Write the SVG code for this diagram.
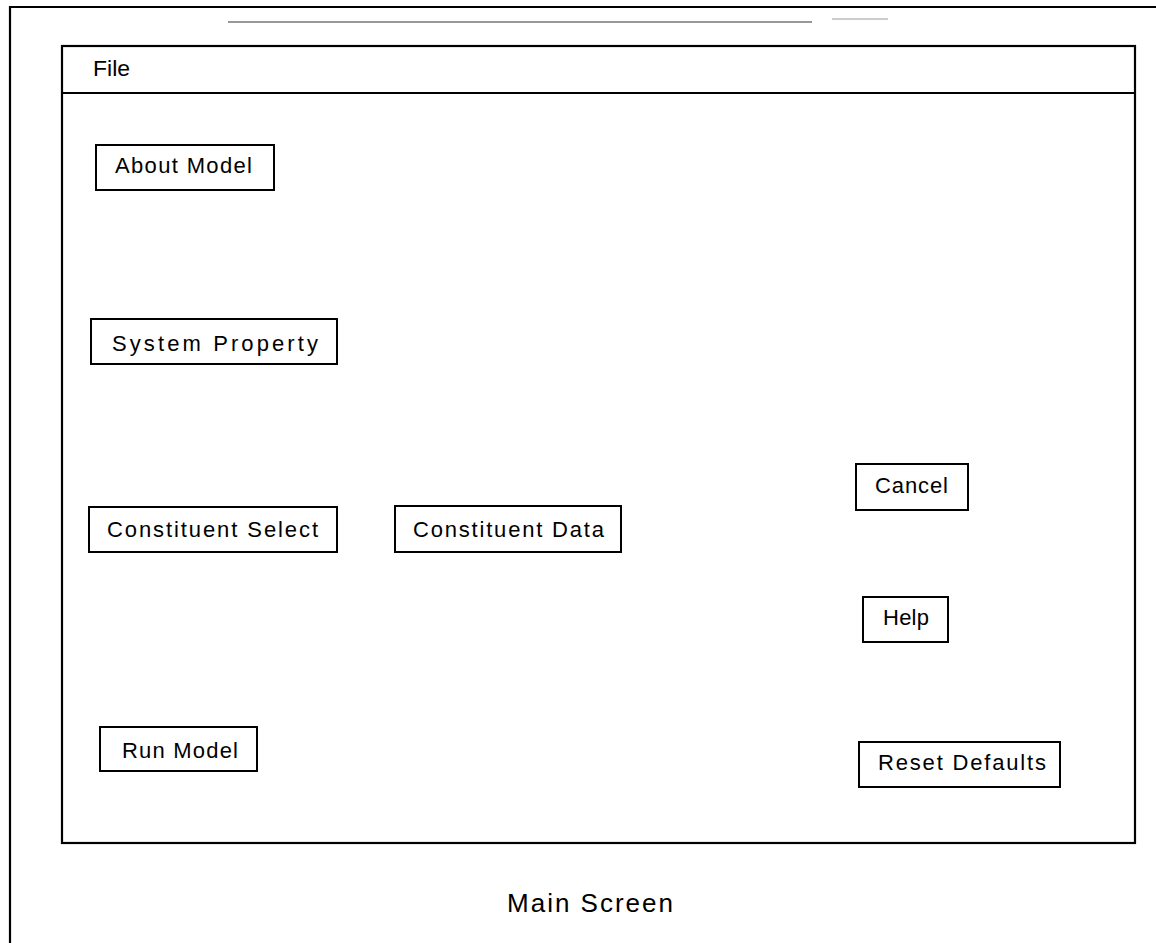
<svg xmlns="http://www.w3.org/2000/svg" width="1156" height="943" viewBox="0 0 1156 943">
  <style>
    .frame { fill: none; stroke: #000; stroke-width: 2.2; }
    .btn { fill: #fff; stroke: #000; stroke-width: 2; }
    .lbl { font-family: "Liberation Sans", Arial, sans-serif; font-size: 22px; fill: #000; }
    .cap { font-family: "Liberation Sans", Arial, sans-serif; font-size: 26px; fill: #000; }
  </style>
  <rect width="1156" height="943" fill="#fff"/>

  <!-- outer sheet border (runs off the right and bottom edges) -->
  <g id="sheet">
    <polyline class="frame" points="10,943 10,7 1156,7"/>
    <line x1="228" y1="22" x2="812" y2="22" stroke="#777" stroke-width="1.4"/>
    <line x1="832" y1="19" x2="888" y2="19" stroke="#999" stroke-width="1.2"/>
  </g>

  <!-- application window with menu bar -->
  <g id="window">
    <rect class="frame" x="62" y="46" width="1073" height="797"/>
    <line class="frame" x1="62" y1="93" x2="1135" y2="93"/>
    <text class="lbl" x="93" y="76" textLength="37" lengthAdjust="spacingAndGlyphs">File</text>
  </g>

  <g id="about-model">
    <rect class="btn" x="96" y="145" width="178" height="45"/>
    <text class="lbl" x="115" y="173" textLength="137" lengthAdjust="spacing">About Model</text>
  </g>

  <g id="system-property">
    <rect class="btn" x="91" y="319" width="246" height="45"/>
    <text class="lbl" x="112" y="351" textLength="206" lengthAdjust="spacing">System Property</text>
  </g>

  <g id="constituent-select">
    <rect class="btn" x="89" y="507" width="248" height="45"/>
    <text class="lbl" x="107" y="537" textLength="211" lengthAdjust="spacing">Constituent Select</text>
  </g>

  <g id="constituent-data">
    <rect class="btn" x="395" y="506" width="226" height="46"/>
    <text class="lbl" x="413" y="537" textLength="191" lengthAdjust="spacing">Constituent Data</text>
  </g>

  <g id="cancel">
    <rect class="btn" x="856" y="464" width="112" height="46"/>
    <text class="lbl" x="875" y="493" textLength="73" lengthAdjust="spacing">Cancel</text>
  </g>

  <g id="help">
    <rect class="btn" x="863" y="597" width="85" height="45"/>
    <text class="lbl" x="883" y="625" textLength="46" lengthAdjust="spacing">Help</text>
  </g>

  <g id="reset-defaults">
    <rect class="btn" x="859" y="742" width="201" height="45"/>
    <text class="lbl" x="878" y="770" textLength="168" lengthAdjust="spacing">Reset Defaults</text>
  </g>

  <g id="run-model">
    <rect class="btn" x="100" y="727" width="157" height="44"/>
    <text class="lbl" x="122" y="758" textLength="116" lengthAdjust="spacing">Run Model</text>
  </g>

  <g id="connectors"></g>

  <text class="cap" x="507" y="912" textLength="166" lengthAdjust="spacing">Main Screen</text>
</svg>
